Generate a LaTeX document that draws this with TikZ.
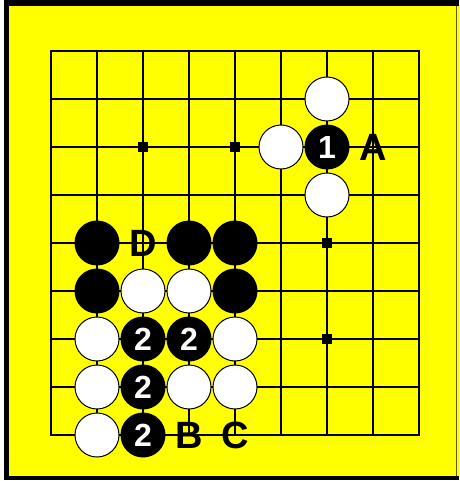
\documentclass[tikz,border=0pt]{standalone}
\usepackage{fontspec}
\setmainfont{Liberation Sans}
\definecolor{boardyellow}{RGB}{255,255,0}
\definecolor{edgeolive}{RGB}{90,90,0}
\begin{document}
\begin{tikzpicture}[x=1pt,y=-1pt,
  gridline/.style={line width=2pt,line cap=rect},
  wstone/.style={circle,minimum size=44pt,inner sep=0pt,fill=white,draw=black,line width=1pt},
  bstone/.style={circle,minimum size=45pt,inner sep=0pt,fill=black},
  num/.style={text=white,font=\fontsize{32}{32}\selectfont\bfseries},
  lbl/.style={inner sep=0pt,font=\fontsize{38}{38}\selectfont\bfseries},
  starpt/.style={rectangle,fill=black,minimum size=10pt,inner sep=0pt}
]
\useasboundingbox (0,0) rectangle (459,481);
\fill[white] (0,0) rectangle (459,481);
\fill[black] (4,0) rectangle (459,480);
\fill[boardyellow] (9,6) rectangle (459,476);
\draw[edgeolive,line width=1.5pt] (456.5,6) -- (456.5,476);
% grid
\foreach \i in {0,...,8}{
  \draw[gridline] ({51+46*\i},51) -- ({51+46*\i},435);
  \draw[gridline] (51,{51+48*\i}) -- (419,{51+48*\i});
}
% star points
\node[starpt] (st1) at (143,147) {};
\node[starpt] (st2) at (235,147) {};
\node[starpt] (st3) at (327,243) {};
\node[starpt] (st4) at (327,339) {};
% white stones
\foreach \c/\r in {6/1,5/2,6/3,2/5,3/5,1/6,4/6,1/7,3/7,4/7,1/8}{
  \node[wstone] (w\c\r) at ({51+46*\c},{51+48*\r}) {};
}
% black stones without numbers
\foreach \c/\r in {1/4,3/4,4/4,1/5,4/5}{
  \node[bstone] (b\c\r) at ({51+46*\c},{51+48*\r}) {};
}
% numbered black stones
\node[bstone,num] (b62) at (327,147) {1};
\foreach \c/\r in {2/6,3/6,2/7,2/8}{
  \node[bstone,num] (b\c\r) at ({51+46*\c},{51+48*\r}) {2};
}
% labels
\node[lbl] (lA) at (373,147) {A};
\node[lbl] (lD) at (143,243) {D};
\node[lbl] (lB) at (189,435) {B};
\node[lbl] (lC) at (235,435) {C};
\end{tikzpicture}
\end{document}
